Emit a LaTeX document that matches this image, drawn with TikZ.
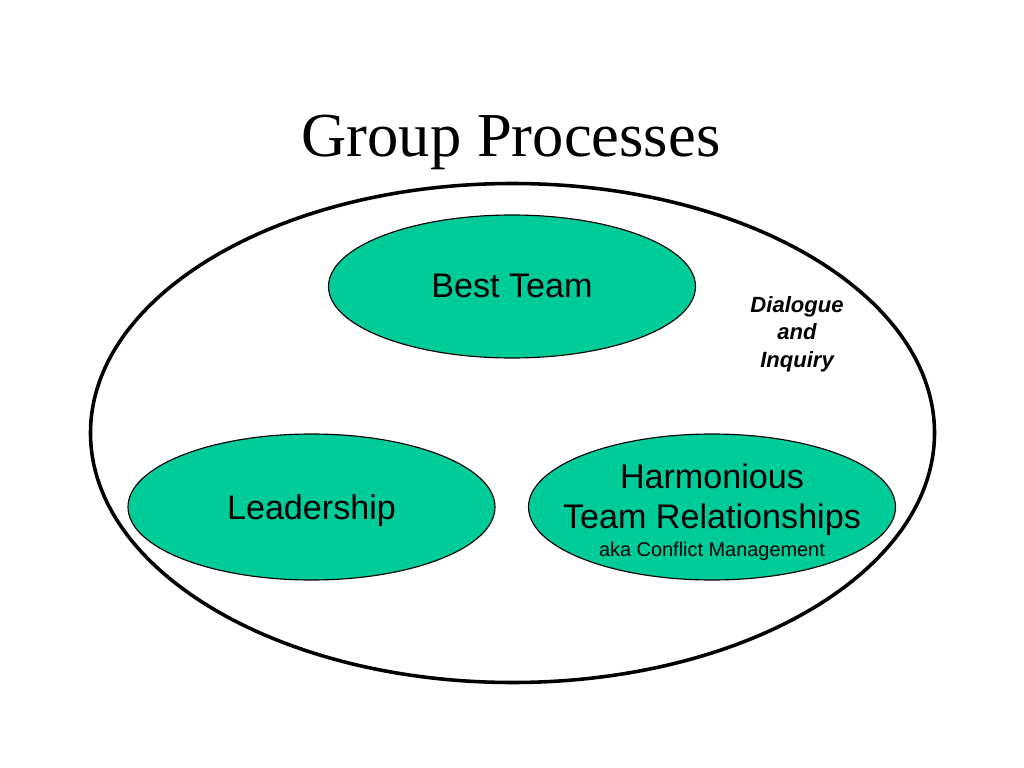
\documentclass[tikz,border=0pt]{standalone}
\usepackage{fontspec}
\setmainfont{Liberation Serif}
\newfontfamily\arialfont{Liberation Sans}
\usetikzlibrary{shapes.geometric}
\definecolor{teal}{HTML}{00CC99}
\tikzset{
  px/.style={x=0.703125pt,y=-0.703125pt},
  oval/.style={ellipse,draw=black,line width=0.8pt,fill=teal,inner sep=0pt},
  lbl/.style={font=\arialfont\fontsize{24}{28}\selectfont,inner sep=0pt,anchor=base},
  small/.style={font=\arialfont\fontsize{14}{17}\selectfont,inner sep=0pt,anchor=base},
}
\begin{document}
\begin{tikzpicture}[px]
\useasboundingbox (0,0) rectangle (1024,768);
\node[font=\fontsize{44}{50}\selectfont,inner sep=0pt,anchor=base] (title) at (511,157) {Group Processes};
\node[ellipse,draw=black,line width=2.5pt,minimum width={844*0.703125pt},minimum height={499*0.703125pt},inner sep=0pt] (outer) at (512.5,433) {};
\node[oval,minimum width={367*0.703125pt},minimum height={143*0.703125pt}] (best) at (512,286.5) {};
\node[oval,minimum width={367*0.703125pt},minimum height={146*0.703125pt}] (lead) at (311.5,507) {};
\node[oval,minimum width={367*0.703125pt},minimum height={146*0.703125pt}] (harm) at (712,507) {};
\node[lbl] (tbest) at (512,298) {Best Team};
\node[lbl] (tlead) at (311.5,519) {Leadership};
\node[lbl] (th1) at (712,488) {Harmonious};
\node[lbl] (th2) at (712,528) {Team Relationships};
\node[small] (th3) at (712,556) {aka Conflict Management};
\node[font=\arialfont\bfseries\itshape\fontsize{15.5}{19}\selectfont,align=center,inner sep=0pt,anchor=base] (dia) at (797,367) {Dialogue\\and\\Inquiry};
\end{tikzpicture}
\end{document}
